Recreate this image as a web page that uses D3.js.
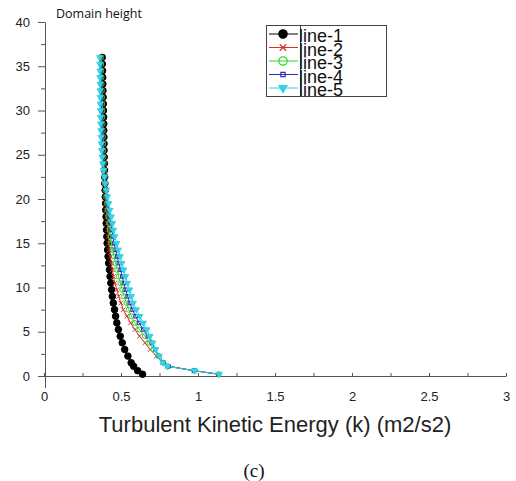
<!DOCTYPE html>
<html>
<head>
<meta charset="utf-8">
<script src="https://cdn.jsdelivr.net/npm/d3@7"></script>
<style>
body { margin: 0; background: #fff; }
svg { display: block; }
</style>
</head>
<body>
<svg width="516" height="481"></svg>
<script>
// heights (y) shared by every profile
var heights = [36, 35.25, 34.5, 33.75, 33, 32.25, 31.5, 30.75, 30, 29.25, 28.5, 27.75, 27, 26.25, 25.5, 24.75,
  24, 23.25, 22.5, 21.75, 21, 20.25, 19.5, 18.75, 18, 17.25, 16.5, 15.75, 15, 14.25, 13.5, 12.75,
  12, 11.25, 10.5, 9.75, 9, 8.25, 7.5, 6.75, 6, 5.25, 4.5, 3.75, 3, 2.25, 1.5, 1.1, 0.6, 0.2];

// turbulent kinetic energy
var line1 = [.378, .379, .380, .381, .382, .383, .384, .385, .386, .387, .388, .388, .389, .390, .390, .391,
  .392, .393, .394, .395, .397, .398, .400, .401, .403, .404, .406, .408, .410, .413, .416, .420,
  .425, .429, .434, .439, .444, .450, .458, .465, .473, .483, .495, .508, .524, .545, .566, .582, .608, .640];
var line2 = [.372, .373, .374, .375, .376, .377, .378, .379, .380, .381, .382, .383, .384, .386, .387, .388,
  .390, .391, .393, .395, .397, .399, .402, .405, .408, .411, .414, .417, .420, .425, .431, .437,
  .444, .451, .460, .473, .485, .499, .515, .538, .562, .590, .620, .655, .690, .730, .770, .800, .975, 1.13];
var line3 = [.370, .371, .372, .373, .374, .375, .376, .377, .378, .379, .380, .381, .382, .383, .384, .386,
  .388, .391, .394, .397, .400, .404, .408, .412, .417, .422, .427, .432, .437, .446, .455, .465,
  .475, .485, .496, .508, .520, .535, .550, .568, .590, .620, .655, .685, .712, .742, .775, .805, .975, 1.135];
var line4 = [.366, .367, .368, .369, .370, .371, .372, .373, .374, .375, .376, .377, .378, .379, .381, .383,
  .386, .390, .394, .399, .403, .408, .414, .420, .427, .434, .441, .448, .455, .465, .475, .486,
  .497, .508, .518, .530, .543, .557, .575, .595, .617, .645, .675, .700, .722, .748, .778, .810, .975, 1.135];
var line5 = [.362, .362, .363, .363, .364, .364, .365, .365, .366, .367, .368, .369, .370, .372, .374, .377,
  .381, .386, .392, .398, .405, .412, .420, .428, .437, .445, .452, .460, .472, .483, .495, .506,
  .518, .530, .542, .556, .567, .580, .600, .622, .645, .668, .688, .707, .725, .748, .772, .800, .978, 1.138];

var seriesNames = ["line-1", "line-2", "line-3", "line-4", "line-5"];
var xTicks = [0, 0.5, 1, 1.5, 2, 2.5, 3];
var xMinor = [0, 0.25, 0.5, 0.75, 1, 1.25, 1.5, 1.75, 2, 2.25, 2.5, 2.75, 3];
var yTicks = [0, 5, 10, 15, 20, 25, 30, 35, 40];
var yMinor = [2.5, 7.5, 12.5, 17.5, 22.5, 27.5, 32.5, 37.5];

var series = [line1, line2, line3, line4, line5].map(function(vals, i) {
  return { name: seriesNames[i], points: vals.map(function(v, j) { return { k: v, h: heights[j] }; }) };
});

var svg = d3.select("svg"),
    width = +svg.attr("width"),
    height = +svg.attr("height");

var x = d3.scaleLinear().domain([0, 3]).range([44, 506]);
var y = d3.scaleLinear().domain([0, 40]).range([376, 22]);

// marker styles per series
var timesSym = d3.symbolTimes || d3.symbolCross;
var styles = [
  { color: "#000000", sym: d3.symbolCircle, size: 34, fill: true, rot: 0, lsize: 55 },
  { color: "#d9302c", sym: timesSym, size: 16, fill: false, rot: d3.symbolTimes ? 0 : 45, lsize: 30 },
  { color: "#2ad62a", sym: d3.symbolCircle, size: 20, fill: false, rot: 0, lsize: 55 },
  { color: "#2b2bb8", sym: d3.symbolSquare, size: 12, fill: false, rot: 0, lsize: 18 },
  { color: "#33d3e3", sym: d3.symbolTriangle, size: 16, fill: true, rot: 180, lsize: 28 }
];

// axes
var font = "'Liberation Sans', Arial, sans-serif";

var xMinorAxis = svg.append("g")
    .attr("transform", "translate(0," + y(0) + ")")
    .call(d3.axisBottom(x).tickValues(xMinor).tickSize(-3).tickSizeOuter(0).tickFormat(""));
xMinorAxis.select(".domain").attr("stroke", "#555");
xMinorAxis.selectAll(".tick line").attr("stroke", "#555");

var xAxis = svg.append("g")
    .attr("transform", "translate(0," + y(0) + ")")
    .call(d3.axisBottom(x).tickValues(xTicks).tickSize(-3).tickSizeOuter(0).tickPadding(16)
      .tickFormat(function(d) { return d; }));
xAxis.select(".domain").remove();
xAxis.selectAll(".tick line").attr("stroke", "#555");
xAxis.selectAll("text").attr("font-family", font).attr("font-size", 13).attr("fill", "#222");

var yMinorAxis = svg.append("g")
    .attr("transform", "translate(" + (x(0) + 1) + ",0)")
    .call(d3.axisLeft(y).tickValues(yMinor).tickSize(4).tickFormat(""));
yMinorAxis.select(".domain").remove();
yMinorAxis.selectAll(".tick line").attr("stroke", "#555");

var yAxis = svg.append("g")
    .attr("transform", "translate(" + (x(0) + 1) + ",0)")
    .call(d3.axisLeft(y).tickValues(yTicks).tickSize(7).tickSizeOuter(0).tickPadding(8));
yAxis.select(".domain").attr("stroke", "#555");
yAxis.selectAll(".tick line").attr("stroke", "#555");
yAxis.selectAll("text").attr("font-family", font).attr("font-size", 13).attr("fill", "#222");

// y axis runs a little below zero
svg.append("line")
    .attr("x1", x(0) + 1.5).attr("x2", x(0) + 1.5)
    .attr("y1", y(0)).attr("y2", y(0) + 12)
    .attr("stroke", "#555");

// profiles
var line = d3.line()
    .x(function(d) { return x(d.k); })
    .y(function(d) { return y(d.h); });

var groups = svg.selectAll(".series")
  .data(series)
  .enter().append("g")
    .attr("class", "series");

groups.append("path")
    .attr("d", function(d) { return line(d.points); })
    .attr("fill", "none")
    .attr("stroke", function(d, i) { return styles[i].color; })
    .attr("stroke-width", 1);

groups.each(function(s, i) {
  var st = styles[i];
  d3.select(this).selectAll("path.mark")
    .data(s.points)
    .enter().append("path")
      .attr("class", "mark")
      .attr("d", d3.symbol().type(st.sym).size(st.size))
      .attr("transform", function(d) {
        return "translate(" + x(d.k) + "," + y(d.h) + ") rotate(" + st.rot + ")";
      })
      .attr("fill", st.fill ? st.color : "none")
      .attr("stroke", st.color)
      .attr("stroke-width", 1);
});

// legend
var lg = svg.append("g").attr("class", "legend");
lg.append("rect")
    .attr("x", 266.5).attr("y", 25.5)
    .attr("width", 120).attr("height", 71)
    .attr("fill", "#fff").attr("stroke", "#444");
lg.append("line")
    .attr("x1", 300.5).attr("x2", 300.5).attr("y1", 25.5).attr("y2", 96.5)
    .attr("stroke", "#444");

var rows = lg.selectAll(".row")
  .data(seriesNames)
  .enter().append("g")
    .attr("class", "row")
    .attr("transform", function(d, i) { return "translate(0," + (34 + i * 13.5) + ")"; });

rows.append("line")
    .attr("x1", 269).attr("x2", 298)
    .attr("stroke", function(d, i) { return styles[i].color; });

rows.append("path")
    .attr("d", function(d, i) { return d3.symbol().type(styles[i].sym).size(styles[i].lsize)(); })
    .attr("transform", function(d, i) { return "translate(283,0) rotate(" + styles[i].rot + ")"; })
    .attr("fill", function(d, i) { return styles[i].fill ? styles[i].color : "none"; })
    .attr("stroke", function(d, i) { return styles[i].color; })
    .attr("stroke-width", 1.2);

rows.append("text")
    .attr("x", 299).attr("y", 8)
    .attr("font-family", font).attr("font-size", 18).attr("fill", "#111")
    .text(function(d) { return d; });

// titles
svg.append("text")
    .attr("x", 56).attr("y", 18)
    .attr("font-family", "'Open Sans', sans-serif").attr("font-size", 12.5).attr("fill", "#111")
    .text("Domain height");

svg.append("text")
    .attr("x", 275).attr("y", 432)
    .attr("text-anchor", "middle")
    .attr("font-family", font).attr("font-size", 22).attr("fill", "#222")
    .text("Turbulent Kinetic Energy (k) (m2/s2)");

svg.append("text")
    .attr("x", 254).attr("y", 477)
    .attr("text-anchor", "middle")
    .attr("font-family", "'Liberation Serif', 'Times New Roman', serif").attr("font-size", 19).attr("fill", "#111")
    .text("(c)");
</script>
</body>
</html>
